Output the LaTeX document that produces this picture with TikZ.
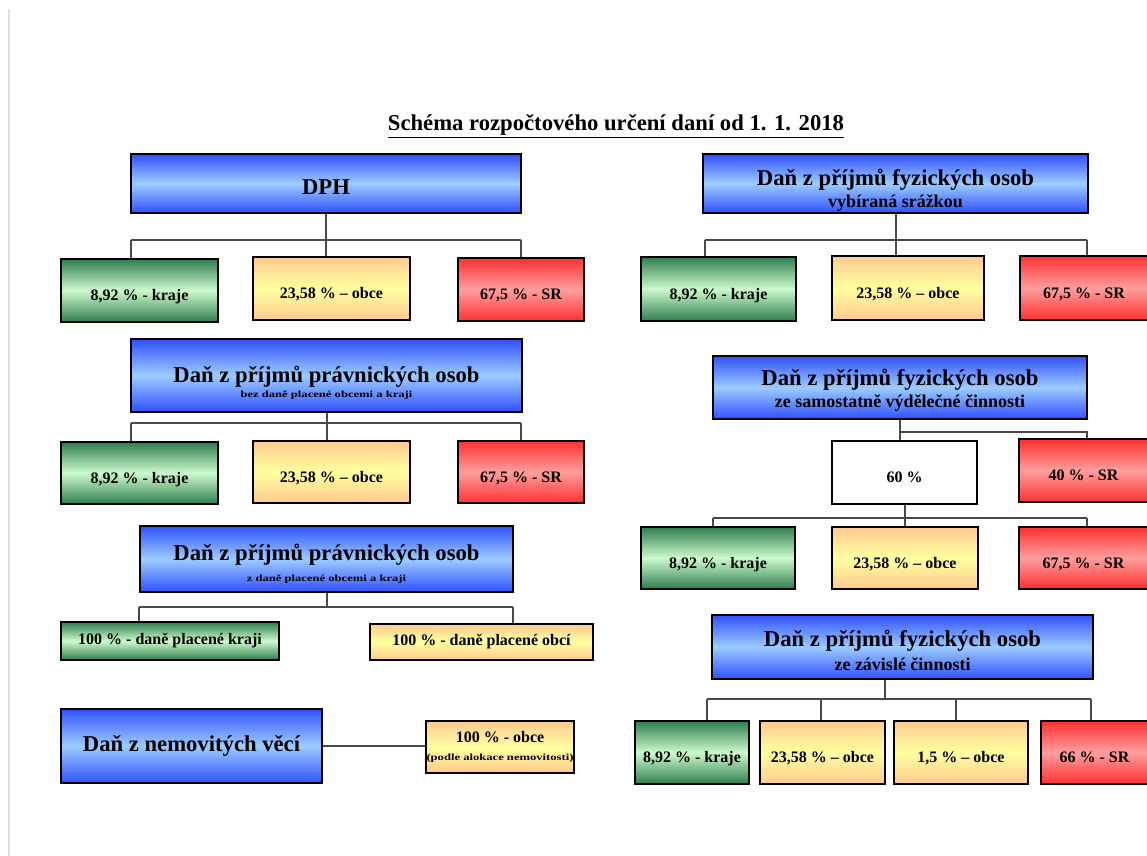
\documentclass[tikz,border=0pt]{standalone}
\usepackage{fontspec}
\setmainfont{Liberation Serif}
\newfontfamily\widefont[FakeStretch=1.35]{Liberation Serif}
\usetikzlibrary{positioning}

\definecolor{blueD}{HTML}{3050FF}
\definecolor{blueL}{HTML}{9CCCFF}
\definecolor{greenD}{HTML}{2F7D50}
\definecolor{greenL}{HTML}{CCFACC}
\definecolor{yellowD}{HTML}{FFC98F}
\definecolor{yellowL}{HTML}{FFFFA0}
\definecolor{redD}{HTML}{FF3030}
\definecolor{redL}{HTML}{FF9E9E}
\definecolor{wireC}{HTML}{4A4A4A}

\newcommand\titlef{\fontsize{17}{20}\selectfont\bfseries}
\newcommand\mainf{\fontsize{17}{20}\selectfont\bfseries}
\newcommand\subtxtf{\fontsize{13.5}{16}\selectfont\bfseries}
\newcommand\pctf{\fontsize{12}{14}\selectfont\bfseries}
\newcommand\tinyf{\widefont\fontsize{7}{8}\selectfont\bfseries}

\tikzset{wh/.style 2 args={minimum width=#1*0.75pt,minimum height=#2*0.75pt}}

\begin{document}
\begin{tikzpicture}[x=0.75pt,y=-0.75pt,inner sep=0pt]
  \tikzstyle{boxB}=[draw=black,line width=1.2pt,top color=blueD,bottom color=blueD,middle color=blueL,align=center,font=\mainf]
  \tikzstyle{boxG}=[draw=black,line width=1.2pt,top color=greenD,bottom color=greenD,middle color=greenL,align=center,font=\pctf]
  \tikzstyle{boxY}=[draw=black,line width=1.2pt,top color=yellowD,bottom color=yellowD,middle color=yellowL,align=center,font=\pctf]
  \tikzstyle{boxR}=[draw=black,line width=1.2pt,top color=redD,bottom color=redD,middle color=redL,align=center,font=\pctf]
  \tikzstyle{boxW}=[draw=black,line width=1.2pt,fill=white,align=center,font=\pctf]
  \tikzstyle{low}=[text height=18pt,text depth=2.5pt]
  \tikzstyle{mainT}=[font=\mainf]
  \tikzstyle{subT}=[font=\subtxtf]
  \tikzstyle{tinyT}=[font=\tinyf]
  \tikzstyle{wire}=[draw=wireC,line width=1.5pt]

  \useasboundingbox (0,0) rectangle (1147,856);
  \draw[black!12,line width=1.5pt] (9,9) -- (9,856);

  % title
  \node[font=\titlef] (title) at (616,126) {\underline{Schéma rozpočtového určení daní od 1. 1. 2018}};

  % DPH
  \node[boxB, wh={390}{59}, text height=17pt, text depth=1pt] (dph) at (326,183.5) {DPH};
  \node[boxG, low, wh={157}{63}] (dph_k)  at (139.5,290.5) {8,92 \% - kraje};
  \node[boxY, low, wh={157}{63}] (dph_o)  at (331.5,288.5) {23,58 \% – obce};
  \node[boxR, low, wh={126}{63}] (dph_sr) at (521,289.5) {67,5 \% - SR};
  \coordinate (dph_l) at (131,240);
  \coordinate (dph_r) at (521,240);
  \draw[wire] (dph_l) -- (dph_r);
  \draw[wire] (dph.south) -- (dph.south |- dph_o.north);
  \draw[wire] (dph_l) -- (dph_l |- dph_k.north);
  \draw[wire] (dph_r) -- (dph_r |- dph_sr.north);

  % DPPO bez dane placene obcemi a kraji
  \node[boxB, wh={391}{73}] (po1) at (326.5,375.5) {};
  \node[mainT] (po1_t) at (326.5,377) {Daň z příjmů právnických osob};
  \node[tinyT] (po1_s) at (326.5,395) {bez daně placené obcemi a kraji};
  \node[boxG, low, wh={157}{62}] (po1_k)  at (139.5,473) {8,92 \% - kraje};
  \node[boxY, low, wh={157}{62}] (po1_o)  at (331.5,472) {23,58 \% – obce};
  \node[boxR, low, wh={126}{62}] (po1_sr) at (521,472) {67,5 \% - SR};
  \coordinate (po1_l) at (131,423);
  \coordinate (po1_r) at (521,423);
  \draw[wire] (po1_l) -- (po1_r);
  \draw[wire] (po1.south) -- (po1.south |- po1_o.north);
  \draw[wire] (po1_l) -- (po1_l |- po1_k.north);
  \draw[wire] (po1_r) -- (po1_r |- po1_sr.north);

  % DPPO z dane placene obcemi a kraji
  \node[boxB, wh={373}{66}] (po2) at (326.5,559) {};
  \node[mainT] (po2_t) at (326.5,555) {Daň z příjmů právnických osob};
  \node[tinyT] (po2_s) at (326.5,579) {z daně placené obcemi a kraji};
  \node[boxG, wh={218}{38}] (po2_k) at (170,641) {100 \% - daně placené kraji};
  \node[boxY, wh={223}{36}] (po2_o) at (481.5,642) {100 \% - daně placené obcí};
  \coordinate (po2_l) at (139,607);
  \coordinate (po2_r) at (513,607);
  \draw[wire] (po2_l) -- (po2_r);
  \draw[wire] (po2.south) -- (po2.south |- po2_l);
  \draw[wire] (po2_l) -- (po2_l |- po2_k.north);
  \draw[wire] (po2_r) -- (po2_r |- po2_o.north);

  % dan z nemovitych veci
  \node[boxB, wh={261}{74}] (dnv)   at (191.5,746) {Daň z nemovitých věcí};
  \node[boxY, wh={148}{52}] (dnv_o) at (500,747) {100 \% - obce\\[-1pt]{\tinyf (podle alokace nemovitosti)}};
  \draw[wire] (dnv.east) -- (dnv.east -| dnv_o.west);

  % DPFO vybirana srazkou
  \node[boxB, wh={385}{59}] (fo1) at (895.5,183.5) {};
  \node[mainT] (fo1_t) at (895.5,180) {Daň z příjmů fyzických osob};
  \node[subT]  (fo1_s) at (895.5,203) {vybíraná srážkou};
  \node[boxG, low, wh={155}{64}] (fo1_k)  at (718.5,289) {8,92 \% - kraje};
  \node[boxY, low, wh={152}{64}] (fo1_o)  at (908,288) {23,58 \% – obce};
  \node[boxR, low, wh={128}{64}] (fo1_sr) at (1084,288) {67,5 \% - SR};
  \coordinate (fo1_l) at (705,240);
  \coordinate (fo1_r) at (1087,240);
  \draw[wire] (fo1_l) -- (fo1_r);
  \draw[wire] (fo1.south) -- (fo1.south |- fo1_o.north);
  \draw[wire] (fo1_l) -- (fo1_l |- fo1_k.north);
  \draw[wire] (fo1_r) -- (fo1_r |- fo1_sr.north);

  % DPFO ze samostatne vydelecne cinnosti
  \node[boxB, wh={374}{63}] (fo2) at (900,387.5) {};
  \node[mainT] (fo2_t) at (900,380) {Daň z příjmů fyzických osob};
  \node[subT]  (fo2_s) at (900,403) {ze samostatně výdělečné činnosti};
  \node[boxW, low, wh={145}{63}] (fo2_60) at (904.5,472.5) {60 \%};
  \node[boxR, low, wh={129}{63}] (fo2_40) at (1083.5,470.5) {40 \% - SR};
  \coordinate (fo2_a) at (900,432);
  \coordinate (fo2_b) at (1087,432);
  \draw[wire] (fo2.south) -- (fo2.south |- fo2_60.north);
  \draw[wire] (fo2_a) -- (fo2_b) -- (fo2_b |- fo2_40.north);
  \node[boxG, low, wh={154}{62}] (fo2_k)  at (718,558) {8,92 \% - kraje};
  \node[boxY, low, wh={146}{62}] (fo2_o)  at (905,558) {23,58 \% – obce};
  \node[boxR, low, wh={129}{62}] (fo2_sr) at (1083.5,558) {67,5 \% - SR};
  \coordinate (fo2_l) at (713,518);
  \coordinate (fo2_r) at (1087,518);
  \draw[wire] (fo2_l) -- (fo2_r);
  \draw[wire] (fo2_60.south) -- (fo2_60.south |- fo2_o.north);
  \draw[wire] (fo2_l) -- (fo2_l |- fo2_k.north);
  \draw[wire] (fo2_r) -- (fo2_r |- fo2_sr.north);

  % DPFO ze zavisle cinnosti
  \node[boxB, wh={381}{64}] (fo3) at (902.5,647) {};
  \node[mainT] (fo3_t) at (902.5,641) {Daň z příjmů fyzických osob};
  \node[subT]  (fo3_s) at (902.5,664) {ze závislé činnosti};
  \node[boxG, low, wh={114}{63}] (fo3_k)  at (692,752.5) {8,92 \% - kraje};
  \node[boxY, low, wh={125}{63}] (fo3_o)  at (822.5,752.5) {23,58 \% – obce};
  \node[boxY, low, wh={134}{63}] (fo3_o2) at (961,752.5) {1,5 \% – obce};
  \node[boxR, low, wh={107}{63}] (fo3_sr) at (1094.5,752.5) {66 \% - SR};
  \coordinate (fo3_m) at (885,699);
  \coordinate (fo3_l) at (707,699);
  \coordinate (fo3_c) at (821,699);
  \coordinate (fo3_d) at (956,699);
  \coordinate (fo3_r) at (1091,699);
  \draw[wire] (fo3_m |- fo3.south) -- (fo3_m);
  \draw[wire] (fo3_l) -- (fo3_r);
  \draw[wire] (fo3_l) -- (fo3_l |- fo3_k.north);
  \draw[wire] (fo3_c) -- (fo3_c |- fo3_o.north);
  \draw[wire] (fo3_d) -- (fo3_d |- fo3_o2.north);
  \draw[wire] (fo3_r) -- (fo3_r |- fo3_sr.north);
\end{tikzpicture}
\end{document}
